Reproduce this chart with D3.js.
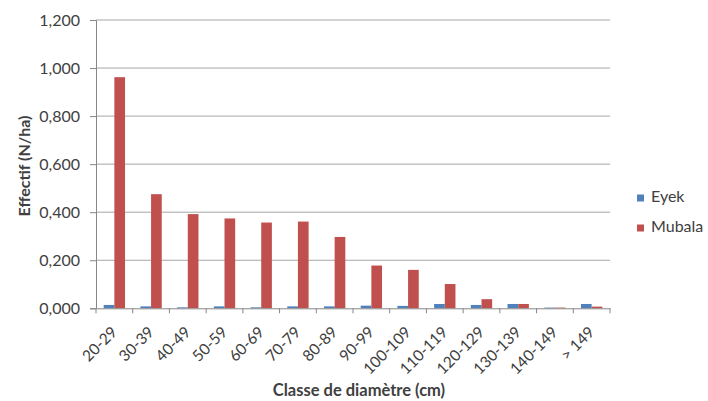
<!DOCTYPE html>
<html><head><meta charset="utf-8">
<script src="https://cdn.jsdelivr.net/npm/d3@7"></script>
<style>
body{margin:0;background:#fff;}
text{font-family:Lato, "Open Sans", sans-serif;fill:#404040;}
</style></head>
<body><svg id="c" width="708" height="401"></svg>
<script>
const categories = ["20-29","30-39","40-49","50-59","60-69","70-79","80-89","90-99","100-109","110-119","120-129","130-139","140-149","> 149"];
const seriesNames = ["Eyek","Mubala"];
const eyek = [0.014,0.008,0.004,0.008,0.004,0.008,0.008,0.011,0.010,0.018,0.014,0.018,0.003,0.018];
const mubala = [0.962,0.475,0.392,0.374,0.357,0.361,0.297,0.178,0.160,0.101,0.038,0.018,0.003,0.007];
const yTicks = [0,0.2,0.4,0.6,0.8,1.0,1.2];
const colors = ["#4f81bd","#c0504d"];

const svg = d3.select("#c");
const m = {l:96, r:610, t:20, b:308.3};
const x = d3.scaleBand().domain(categories).range([m.l, m.r]).paddingInner(0).paddingOuter(0);
const inner = d3.scaleBand().domain(seriesNames).range([0, x.bandwidth()]).paddingInner(0).paddingOuter(0.72);
const y = d3.scaleLinear().domain([0,1.2]).range([m.b, m.t]);

// gridlines
svg.append("g").selectAll("line").data(yTicks.slice(1)).join("line")
  .attr("x1", m.l).attr("x2", m.r)
  .attr("y1", d => y(d)).attr("y2", d => y(d))
  .attr("stroke", "#a6a6a6").attr("stroke-width", 1);

// bars
const data = categories.map((c,i) => ({c, vals:[eyek[i], mubala[i]]}));
const g = svg.append("g");
data.forEach(d => {
  d.vals.forEach((v, j) => {
    g.append("rect")
      .attr("x", x(d.c) + inner(seriesNames[j]))
      .attr("y", y(v))
      .attr("width", inner.bandwidth())
      .attr("height", y(0) - y(v))
      .attr("fill", colors[j]);
  });
});

// y axis
const yAxis = d3.axisLeft(y).tickValues(yTicks).tickSize(6).tickPadding(10)
  .tickFormat(v => d3.format(".3f")(v).replace(".", ","));
const ya = svg.append("g").attr("transform", `translate(${m.l},0)`).call(yAxis);
ya.select(".domain").attr("stroke", "#868686");
ya.selectAll(".tick line").attr("stroke", "#868686");
ya.selectAll(".tick text").attr("font-size", "16px").attr("fill", "#404040").attr("x", -16);

// x axis
const xa = svg.append("g").attr("transform", `translate(0,${m.b})`)
  .call(d3.axisBottom(x).tickSize(0).tickFormat(""));
xa.select(".domain").attr("stroke", "#868686");
// boundary ticks
xa.append("g").selectAll("line").data(d3.range(categories.length + 1)).join("line")
  .attr("x1", i => m.l + i * x.step()).attr("x2", i => m.l + i * x.step())
  .attr("y1", 0).attr("y2", 5).attr("stroke", "#868686");
// labels
xa.append("g").selectAll("text").data(categories).join("text")
  .attr("transform", d => `translate(${x(d) + x.bandwidth()/2 + 1},${22}) rotate(-45)`)
  .attr("text-anchor", "end").attr("dominant-baseline", "middle")
  .attr("font-size", "15.5px").attr("fill", "#404040").text(d => d);

// axis titles
svg.append("text").attr("transform", "translate(30,166) rotate(-90)")
  .attr("text-anchor", "middle").attr("font-size", "16px").attr("font-weight", "bold")
  .attr("fill", "#262626").text("Effectif (N/ha)");
svg.append("text").attr("x", 359).attr("y", 396)
  .attr("text-anchor", "middle").attr("font-size", "16.5px").attr("font-weight", "bold")
  .attr("fill", "#262626").text("Classe de diamètre (cm)");

// legend
const lg = svg.append("g");
seriesNames.forEach((s, i) => {
  const yy = 198 + i * 30;
  lg.append("rect").attr("x", 637).attr("y", yy - 3.5).attr("width", 7).attr("height", 7).attr("fill", colors[i]);
  lg.append("text").attr("x", 651).attr("y", yy).attr("dominant-baseline", "middle")
    .attr("font-size", "16px").attr("fill", "#404040").text(s);
});
</script></body></html>
